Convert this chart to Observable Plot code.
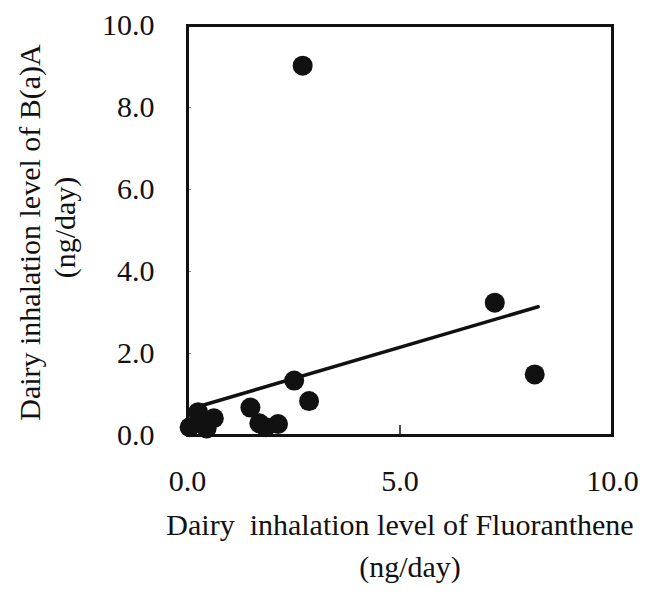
<!DOCTYPE html>
<html>
<head>
<meta charset="utf-8">
<script src="https://cdn.jsdelivr.net/npm/d3@7"></script>
<script src="https://cdn.jsdelivr.net/npm/@observablehq/plot@0.6"></script>
<style>
  html, body { margin: 0; padding: 0; background: #fff; }
  #chart svg { display: block; }
</style>
</head>
<body>
<div id="chart"></div>
<script>
// Data
const fluoranthene = [0.05, 0.25, 0.45, 0.62, 0.35, 1.48, 1.69, 1.84, 2.13, 2.51, 2.86, 2.71, 7.23, 8.17];
const baa          = [0.20, 0.57, 0.17, 0.42, 0.35, 0.68, 0.30, 0.20, 0.28, 1.34, 0.84, 9.02, 3.24, 1.49];
const fitX = [0.2, 8.25];
const fitY = [0.69, 3.14];
const xTicks = [0, 5, 10];
const yTicks = [0, 2, 4, 6, 8, 10];
const xTitle = ["Dairy  inhalation level of Fluoranthene", "(ng/day)"];
const yTitle = ["Dairy inhalation level of B(a)A", "(ng/day)"];

const points = fluoranthene.map((x, i) => ({x, y: baa[i]}));
const fit = fitX.map((x, i) => ({x, y: fitY[i]}));
const fmt = d3.format(".1f");
const font = "'Liberation Serif', 'Times New Roman', serif";
const fs = 30;

const chart = Plot.plot({
  width: 648,
  height: 601,
  marginLeft: 187,
  marginRight: 36,
  marginTop: 25,
  marginBottom: 166,
  style: {fontFamily: font, fontSize: fs + "px", color: "#111", background: "#fff"},
  x: {domain: [0, 10]},
  y: {domain: [0, 10]},
  marks: [
    Plot.axisX({ticks: xTicks, tickSize: 0, tickPadding: 34, tickFormat: fmt, label: null, fontSize: fs}),
    Plot.axisX({ticks: [5], tickSize: -10, text: null, label: null, strokeWidth: 1.5}),
    Plot.axisY({ticks: yTicks, tickSize: 0, tickPadding: 33, tickFormat: fmt, label: null, fontSize: fs}),
    Plot.axisY({ticks: [2, 4, 6, 8], tickSize: -4, text: null, label: null, strokeOpacity: 0.5}),
    Plot.frame({stroke: "#111", strokeWidth: 3}),
    Plot.line(fit, {x: "x", y: "y", stroke: "#111", strokeWidth: 3.5}),
    Plot.dot(points, {x: "x", y: "y", r: 10, fill: "#111", stroke: "none"}),
    Plot.text([xTitle[0]], {text: d => d, frameAnchor: "bottom", textAnchor: "middle", dy: 90, fontSize: fs, fill: "#111", lineAnchor: "middle"}),
    Plot.text([xTitle[1]], {text: d => d, frameAnchor: "bottom", textAnchor: "middle", dx: 10, dy: 132, fontSize: fs, fill: "#111", lineAnchor: "middle"}),
    Plot.text([yTitle[0]], {text: d => d, frameAnchor: "left", textAnchor: "middle", dx: -157, dy: 2, rotate: -90, fontSize: fs, fill: "#111", lineAnchor: "middle"}),
    Plot.text([yTitle[1]], {text: d => d, frameAnchor: "left", textAnchor: "middle", dx: -122, dy: -3, rotate: -90, fontSize: fs, fill: "#111", lineAnchor: "middle"})
  ]
});
document.getElementById("chart").appendChild(chart);
</script>
</body>
</html>
